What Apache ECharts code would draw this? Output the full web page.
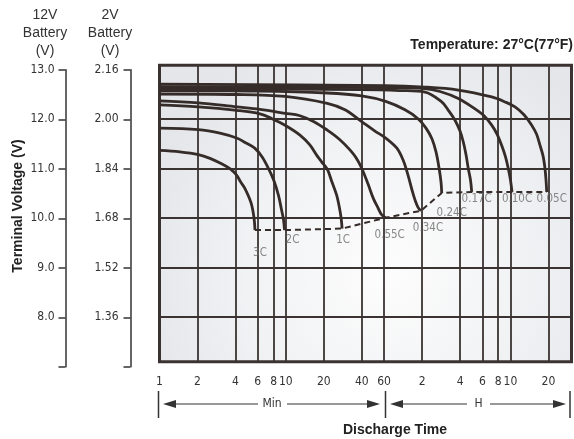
<!DOCTYPE html>
<html><head><meta charset="utf-8">
<script src="https://cdn.jsdelivr.net/npm/echarts@6/dist/echarts.min.js"></script>
<style>html,body{margin:0;padding:0;background:#fff}#c{width:574px;height:439px}</style>
</head><body><div id="c"></div>
<script>
// ---- data (time in minutes, voltage on 12V scale) ----
const rates = ['3C','2C','1C','0.55C','0.34C','0.24C','0.17C','0.10C','0.05C'];
const curve3C  = [[1,11.37],[1.45,11.34],[2.03,11.285],[2.51,11.21],[3.1,11.1],[3.61,11.0],[4.08,10.87],[4.37,10.74],[4.75,10.6],[5.31,10.31],[5.6,10.01],[5.7,9.76]];
const curve2C  = [[1,11.82],[2.03,11.79],[3.01,11.72],[4.08,11.62],[4.84,11.52],[5.7,11.41],[6.48,11.24],[7.3,11.0],[8.07,10.75],[8.75,10.46],[9.25,10.17],[9.59,9.97],[9.77,9.76]];
const curve1C  = [[1,12.29],[2.03,12.25],[4.08,12.18],[6.25,12.11],[7.78,12.01],[9.86,11.88],[12.95,11.68],[15.5,11.48],[17.6,11.27],[19.2,11.14],[21.3,10.99],[23.2,10.73],[25.3,10.46],[26.4,10.25],[27.4,10.01],[27.9,9.79]];
const curve055 = [[1,12.37],[2.03,12.33],[4.08,12.25],[6.25,12.2],[9.86,12.12],[12.95,12.07],[16.7,11.95],[21.3,11.78],[26.4,11.6],[32.2,11.38],[36,11.22],[39.9,11.01],[44.8,10.69],[49.3,10.4],[53.7,10.21],[57.4,10.07],[61.8,10.01]];
const curve034 = [[1,12.51],[4.08,12.5],[9.86,12.46],[21.3,12.32],[29.4,12.19],[39.9,11.95],[50.8,11.76],[61.8,11.62],[75.5,11.42],[84.7,11.18],[92.8,10.87],[99.8,10.57],[105.4,10.37],[111.4,10.22],[117.6,10.15]];
const curve024 = [[1,12.58],[6.25,12.57],[21.3,12.53],[39.9,12.47],[61.8,12.36],[87.8,12.19],[111.4,12.01],[128.8,11.82],[143.8,11.6],[154.6,11.34],[163.3,11.02],[169.4,10.73],[171.6,10.51]];
const curve017 = [[1,12.62],[39.9,12.6],[80.2,12.58],[126.5,12.55],[171.6,12.35],[192.4,12.19],[218.6,11.98],[239.5,11.76],[254.3,11.54],[267.3,11.28],[278.6,11.0],[290,10.77],[296.4,10.53]];
const curve010 = [[1,12.66],[61.8,12.64],[126.5,12.62],[166.3,12.56],[232.2,12.42],[314.8,12.21],[371,12.07],[426.8,11.88],[470,11.7],[512.2,11.47],[549,11.24],[577.7,11.0],[601,10.77],[618,10.53]];
const curve005 = [[1,12.71],[61.8,12.68],[126.5,12.65],[232.2,12.59],[426.8,12.45],[543.8,12.35],[652.5,12.25],[769,12.09],[885,11.88],[966,11.7],[1030,11.47],[1088,11.26],[1128,11.0],[1149,10.77],[1164,10.53]];
const curves = [curve3C, curve2C, curve1C, curve055, curve034, curve024, curve017, curve010, curve005];

const xTickValues = [1,2,4,6,8,10,20,40,60,120,240,360,480,600,1200];
const xTickLabels = ['1','2','4','6','8','10','20','40','60','2','4','6','8','10','20'];
const yGridValues = [8,9,10,11,12];
const yTickValues = [7,8,9,10,11,12,13];
const y12Labels = ['','8.0','9.0','10.0','11.0','12.0','13.0'];
const y2Labels  = ['','1.36','1.52','1.68','1.84','2.00','2.16'];

// ---- layout / style ----
const LINE = '#352c29';
const NARROW = '"DejaVu Sans Condensed","Liberation Sans",sans-serif';
const BOLD = '"Liberation Sans",Arial,sans-serif';
const labelOffsets = [[5,23],[8,10],[1,11],[4,17],[7,17],[10,20],[5,7],[5,7],[5,7]];

const endPoints = curves.map(c => c[c.length-1]);

const series = curves.map((c,i) => ({
  type:'line', name: rates[i], xAxisIndex:0, yAxisIndex:0, data:c,
  showSymbol:false, smooth:0.35, silent:true,
  lineStyle:{color:LINE, width:2.8}
}));
series.push({
  type:'line', xAxisIndex:0, yAxisIndex:0, data:endPoints, showSymbol:false, silent:true,
  lineStyle:{color:LINE, width:2, type:[6,4]}, z:3
});
series.push({
  type:'scatter', xAxisIndex:0, yAxisIndex:0, symbolSize:0, silent:true,
  data: endPoints.map((p,i)=>({value:p, label:{show:true, formatter:rates[i], position:'inside', offset:labelOffsets[i]}})),
  label:{color:'#6a6a6a', fontSize:11.5, fontFamily:NARROW}
});

function arrowHead(tipX, y, dir){
  const L=13, H=4;
  return {type:'polygon', shape:{points:[[tipX,y],[tipX-dir*L,y-H],[tipX-dir*L,y+H]]}, style:{fill:'#333'}};
}
const AY = 404;
const graphics = [
  {type:'text', style:{text:'12V\nBattery\n(V)', x:45, y:6, align:'center', font:'14px '+BOLD, fill:'#333', lineHeight:18}},
  {type:'text', style:{text:'2V\nBattery\n(V)', x:110, y:6, align:'center', font:'14px '+BOLD, fill:'#333', lineHeight:18}},
  {type:'text', rotation:Math.PI/2, x:18, y:206, style:{text:'Terminal Voltage (V)', align:'center', verticalAlign:'middle', font:'bold 14px '+BOLD, fill:'#222'}},
  {type:'text', style:{text:'Temperature: 27°C(77°F)', x:573, y:45, align:'right', verticalAlign:'middle', font:'bold 14px '+BOLD, fill:'#222'}},
  {type:'text', style:{text:'Discharge Time', x:395, y:430, align:'center', verticalAlign:'middle', font:'bold 14px '+BOLD, fill:'#222'}},
  {type:'line', shape:{x1:158.5,y1:391,x2:158.5,y2:418}, style:{stroke:'#333', lineWidth:1.5}},
  {type:'line', shape:{x1:385.5,y1:391,x2:385.5,y2:418}, style:{stroke:'#333', lineWidth:1.5}},
  {type:'line', shape:{x1:570,y1:391,x2:570,y2:418}, style:{stroke:'#333', lineWidth:1.5}},
  {type:'line', shape:{x1:170,y1:AY,x2:258,y2:AY}, style:{stroke:'#333', lineWidth:1.2}},
  {type:'line', shape:{x1:287,y1:AY,x2:372,y2:AY}, style:{stroke:'#333', lineWidth:1.2}},
  arrowHead(163,AY,-1), arrowHead(380,AY,1),
  {type:'text', style:{text:'Min', x:272, y:AY, align:'center', verticalAlign:'middle', font:'12px '+NARROW, fill:'#333'}},
  {type:'line', shape:{x1:398,y1:AY,x2:467,y2:AY}, style:{stroke:'#333', lineWidth:1.2}},
  {type:'line', shape:{x1:490,y1:AY,x2:559,y2:AY}, style:{stroke:'#333', lineWidth:1.2}},
  arrowHead(390,AY,-1), arrowHead(566,AY,1),
  {type:'text', style:{text:'H', x:478.5, y:AY, align:'center', verticalAlign:'middle', font:'12px '+NARROW, fill:'#333'}}
];

const chart = echarts.init(document.getElementById('c'), null, {renderer:'canvas'});
chart.setOption({
  animation:false,
  backgroundColor:'#fff',
  grid:[
    {left:159.5, top:65.3, width:412, height:296.4, show:true, borderColor:'#3a3331', borderWidth:3,
     backgroundColor:{type:'radial', x:0.55, y:0.7, r:0.85,
       colorStops:[{offset:0,color:'#fdfdfd'},{offset:0.55,color:'#f1f2f4'},{offset:1,color:'#e4e6ea'}]}},
    {left:130.5, top:69.8, width:1, height:297}
  ],
  xAxis:[
    {type:'log', logBase:10, gridIndex:0, min:1, max:1828,
     axisLine:{show:false},
     axisTick:{show:false, customValues:xTickValues},
     axisLabel:{customValues:xTickValues, margin:14, fontSize:12, fontFamily:NARROW, color:'#333',
       formatter:(v)=>{const i=xTickValues.findIndex(t=>Math.abs(t-v)<1e-6); return i>=0?xTickLabels[i]:'';}},
     splitLine:{show:true, lineStyle:{color:'#3a3331', width:1.8}}},
    {type:'value', gridIndex:1, show:false, min:0, max:1}
  ],
  yAxis:[
    {type:'value', gridIndex:0, min:7.10, max:13.09,
     axisLine:{show:false}, axisLabel:{show:false},
     axisTick:{show:false, customValues:yGridValues},
     splitLine:{show:true, lineStyle:{color:'#3a3331', width:1.8}}},
    {type:'value', gridIndex:1, position:'left', offset:0, min:7, max:13, interval:1,
     axisLine:{show:true, lineStyle:{color:'#333', width:1.5}},
     axisTick:{show:true, length:7, lineStyle:{color:'#333', width:1.5}},
     axisLabel:{margin:12, fontSize:12, fontFamily:NARROW, color:'#333',
       formatter:(v)=>{const i=yTickValues.indexOf(Math.round(v)); return i>=0?y2Labels[i]:'';}},
     splitLine:{show:false}},
    {type:'value', gridIndex:1, position:'left', offset:65, min:7, max:13, interval:1,
     axisLine:{show:true, lineStyle:{color:'#333', width:1.5}},
     axisTick:{show:true, length:7, lineStyle:{color:'#333', width:1.5}},
     axisLabel:{margin:11, fontSize:12, fontFamily:NARROW, color:'#333',
       formatter:(v)=>{const i=yTickValues.indexOf(Math.round(v)); return i>=0?y12Labels[i]:'';}},
     splitLine:{show:false}}
  ],
  graphic:graphics,
  series:series
});
</script></body></html>
